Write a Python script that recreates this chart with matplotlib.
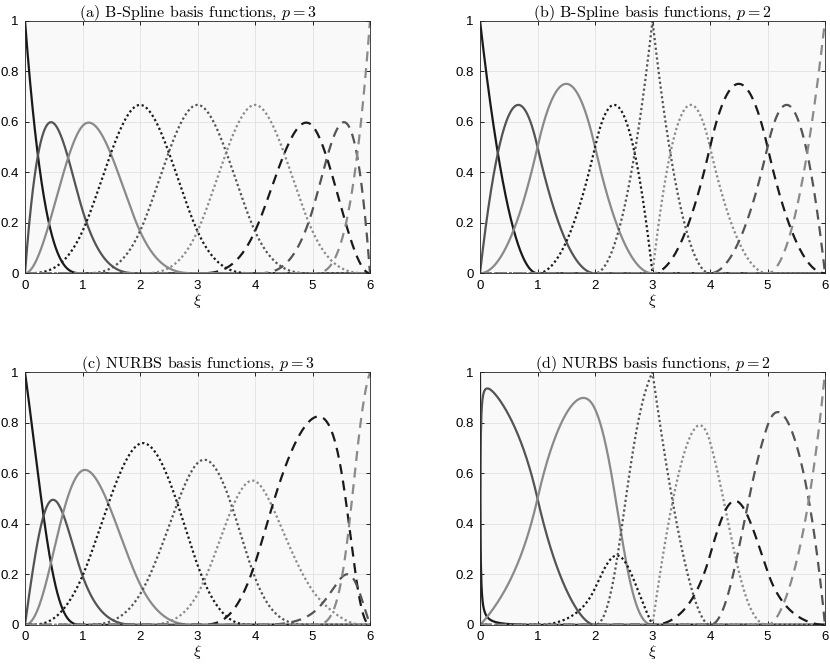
import numpy as np
import matplotlib
matplotlib.use('Agg')
import matplotlib.pyplot as plt

plt.rcParams['mathtext.fontset'] = 'cm'
plt.rcParams['font.family'] = ['Liberation Sans', 'DejaVu Sans']

# knot vectors (cubic and quadratic, open, domain 0..6)
knots3 = [0, 0, 0, 0, 1, 2, 3, 4, 5, 6, 6, 6, 6]
knots2 = [0, 0, 0, 1, 2, 3, 3, 4, 5, 6, 6, 6]

# NURBS weights (c) and (d)
weights3 = [1.0, 0.558, 0.751, 0.834, 0.562, 0.427, 0.731, 0.098, 0.436]
weights2 = [0.01, 1.0, 1.0, 0.17, 0.73, 0.597, 0.227, 0.847, 0.73]

titles = ['(a) B-Spline basis functions, $p=3$', '(b) B-Spline basis functions, $p=2$',
          '(c) NURBS basis functions, $p=3$', '(d) NURBS basis functions, $p=2$']


def basis(knots, p, x):
    # Cox - de Boor recursion
    t = np.asarray(knots, float)
    m = len(t) - 1
    N = np.zeros((m, len(x)))
    for i in range(m):
        if t[i] < t[i + 1]:
            N[i] = (x >= t[i]) & (x < t[i + 1])
    last = max(i for i in range(m) if t[i] < t[i + 1])
    N[last, x >= t[-1]] = 1
    for k in range(1, p + 1):
        M = np.zeros((m - k, len(x)))
        for i in range(m - k):
            d1 = t[i + k] - t[i]
            d2 = t[i + k + 1] - t[i + 1]
            if d1 > 0:
                M[i] += (x - t[i]) / d1 * N[i]
            if d2 > 0:
                M[i] += (t[i + k + 1] - x) / d2 * N[i + 1]
        N = M
    return N


colors = ['#1a1a1a', '#545454', '#8a8a8a']
styles = ['-', (0, (1, 1.2)), (0, (4.5, 3))]

xi = np.linspace(0, 6, 1201)

fig = plt.figure(figsize=(8.3, 6.67), dpi=100)
W, H = 830, 667
boxes = [(25, 20.7), (480, 20.7), (25, 372.3), (480, 372.3)]
setups = [(knots3, 3, None), (knots2, 2, None), (knots3, 3, weights3), (knots2, 2, weights2)]

for (x0, y0), title, (kn, p, w) in zip(boxes, titles, setups):
    ax = fig.add_axes([x0 / W, 1 - (y0 + 252.6) / H, 345 / W, 252.6 / H])
    N = basis(kn, p, xi)
    if w is not None:
        wN = np.array(w)[:, None] * N
        N = wN / wN.sum(axis=0)
    for i in range(N.shape[0]):
        ax.plot(xi, N[i], color=colors[i % 3], linestyle=styles[i // 3], lw=1.6)
    ax.set_xlim(0, 6)
    ax.set_ylim(0, 1)
    ax.set_xticks(range(7))
    ax.set_yticks([0, 0.2, 0.4, 0.6, 0.8, 1])
    ax.set_yticklabels(['0', '0.2', '0.4', '0.6', '0.8', '1'])
    ax.set_facecolor('#f9f9f9')
    ax.grid(True, color='#e2e2e2', lw=0.6)
    ax.set_axisbelow(True)
    ax.tick_params(direction='in', top=True, right=True, labelsize=9.5,
                   length=3, width=0.6, pad=4.5)
    for s in ax.spines.values():
        s.set_color('#262626')
        s.set_linewidth(0.6)
    ax.set_title(title, fontsize=11.5, family='cmr10', pad=3)
    ax.set_xlabel(r'$\xi$', fontsize=11.5, labelpad=0)

fig.savefig('out.png', dpi=100)
